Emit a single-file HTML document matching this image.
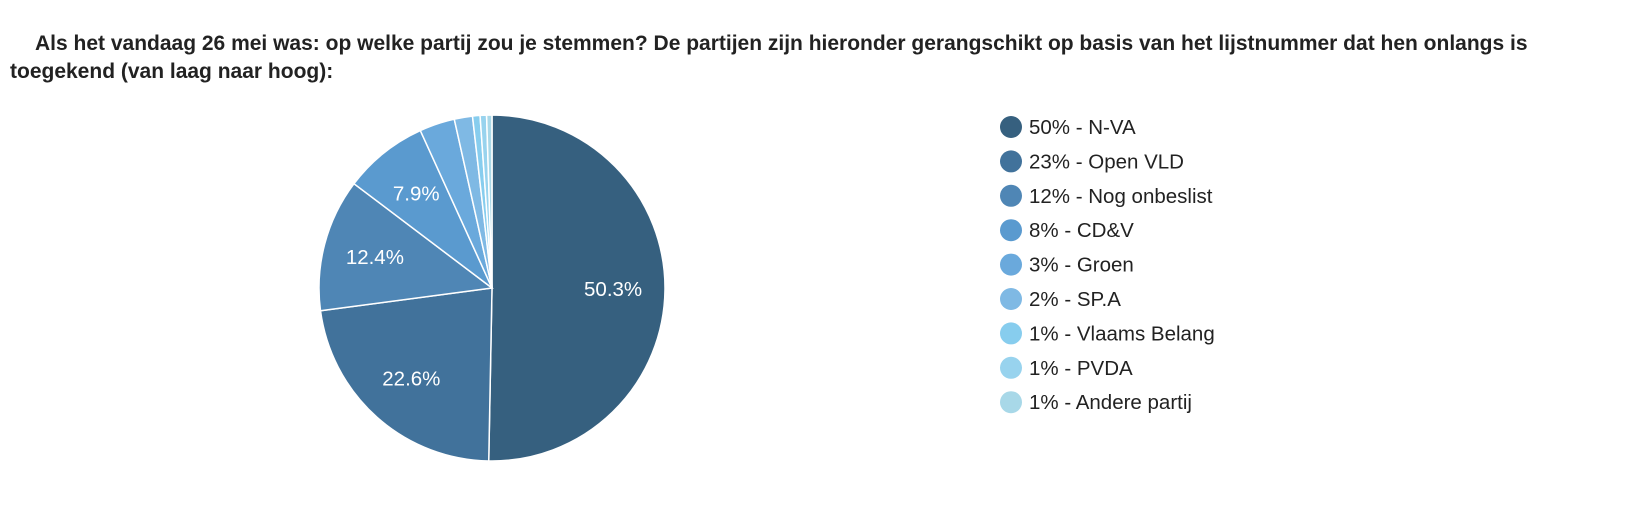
<!DOCTYPE html>
<html><head><meta charset="utf-8"><style>
body{margin:0;background:#fff;width:1633px;height:531px;overflow:hidden;font-family:"Liberation Sans",Arial,sans-serif}
.t{position:absolute;font-weight:bold;font-size:21px;color:#222;white-space:nowrap}
</style></head><body>
<div class="t" style="left:35px;top:32px">Als het vandaag 26 mei was: op welke partij zou je stemmen? De partijen zijn hieronder gerangschikt op basis van het lijstnummer dat hen onlangs is</div>
<div class="t" style="left:10px;top:60px">toegekend (van laag naar hoog):</div>
<svg id="c" width="1633" height="531" style="position:absolute;left:0;top:0"></svg>
<script>
const categories=["N-VA","Open VLD","Nog onbeslist","CD&V","Groen","SP.A","Vlaams Belang","PVDA","Andere partij"];
const values=[50.3,22.6,12.4,7.9,3.3,1.7,0.7,0.6,0.5];
const legendLabels=["50%","23%","12%","8%","3%","2%","1%","1%","1%"];
const colors=["#36607f","#41729b","#4f86b5","#5a9acf","#6aa9dc","#7fb9e4","#87cdee","#98d3ee","#a8d8e8"];
const NS="http://www.w3.org/2000/svg",svg=document.getElementById("c");
const cx=492,cy=288,r=173;
const total=values.reduce((a,b)=>a+b,0);
function pt(a,rr){return [cx+rr*Math.sin(a),cy-rr*Math.cos(a)];}
let acc=0;
values.forEach((v,i)=>{
  const a0=acc/total*2*Math.PI;acc+=v;const a1=acc/total*2*Math.PI;
  const p0=pt(a0,r),p1=pt(a1,r);
  const p=document.createElementNS(NS,"path");
  p.setAttribute("d",`M${cx},${cy}L${p0[0]},${p0[1]}A${r},${r} 0 ${a1-a0>Math.PI?1:0} 1 ${p1[0]},${p1[1]}Z`);
  p.setAttribute("fill",colors[i]);p.setAttribute("stroke","#fff");p.setAttribute("stroke-width","1.5");
  
  
  svg.appendChild(p);
  if(v/total>0.05){
    const m=pt((a0+a1)/2,r*0.7);
    const t=document.createElementNS(NS,"text");
    t.setAttribute("x",m[0]);t.setAttribute("y",m[1]+7);t.setAttribute("text-anchor","middle");
    t.setAttribute("fill","#fff");t.setAttribute("font-size","20.5");t.setAttribute("font-family","Liberation Sans, sans-serif");
    t.textContent=v.toFixed(1)+"%";
    
    
    svg.appendChild(t);
  }
});
categories.forEach((c,i)=>{
  const y=127+i*34.4;
  const g=document.createElementNS(NS,"g");
  
  
  const ci=document.createElementNS(NS,"circle");
  ci.setAttribute("cx",1011);ci.setAttribute("cy",y);ci.setAttribute("r",11);ci.setAttribute("fill",colors[i]);
  
  
  const t=document.createElementNS(NS,"text");
  t.setAttribute("x",1029);t.setAttribute("y",y+7);t.setAttribute("font-size","20.5");t.setAttribute("fill","#222");
  t.setAttribute("font-family","Liberation Sans, sans-serif");
  t.textContent=legendLabels[i]+" - "+c;
  
  
  g.appendChild(ci);g.appendChild(t);svg.appendChild(g);
});
</script>
</body></html>
